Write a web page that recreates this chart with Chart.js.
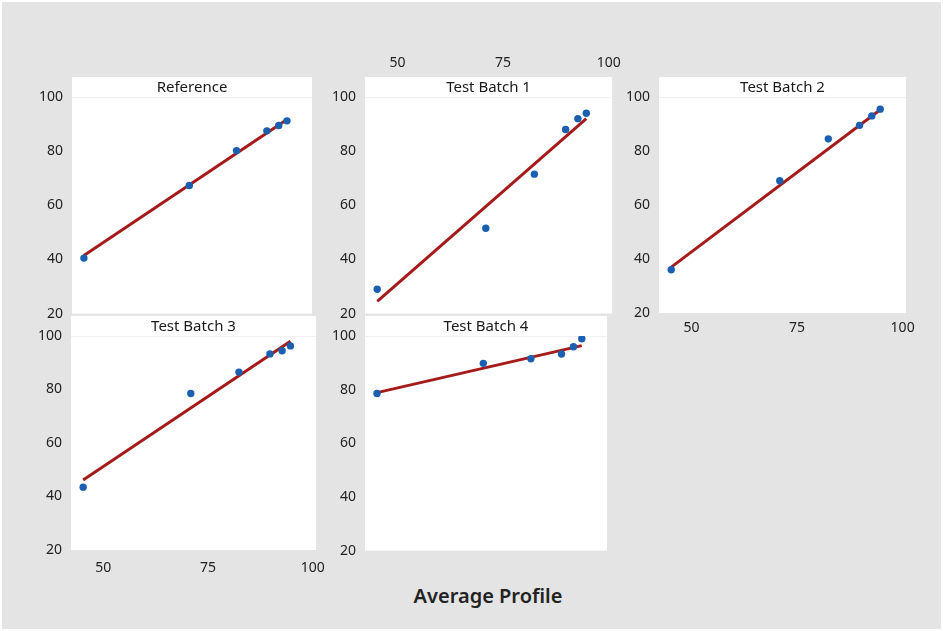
<!DOCTYPE html>
<html>
<head>
<meta charset="utf-8">
<script src="https://cdn.jsdelivr.net/npm/chart.js@4.4.1/dist/chart.umd.min.js"></script>
<style>
  html, body { margin: 0; padding: 0; background: #fff; }
  #frame { position: absolute; left: 2px; top: 2px; width: 939px; height: 627px; background: #e4e4e4; overflow: hidden; }
  #wrap { position: absolute; left: -2px; top: -2px; width: 943px; height: 631px; }
  canvas { position: absolute; }
  #xlabel { position: absolute; left: 340px; width: 296px; top: 582px; text-align: center;
            font-family: 'Noto Sans', sans-serif; font-size: 20px; font-weight: 600; color: #222; }
</style>
</head>
<body>
<div id="frame"><div id="wrap">
  <canvas id="c1" width="284" height="254" style="left:32px;top:77px"></canvas>
  <canvas id="c2" width="322" height="281" style="left:325px;top:50px"></canvas>
  <canvas id="c3" width="307" height="266" style="left:619px;top:77px"></canvas>
  <canvas id="c4" width="305" height="264" style="left:31px;top:316px"></canvas>
  <canvas id="c5" width="286" height="252" style="left:325px;top:316px"></canvas>
  <div id="xlabel">Average Profile</div>
</div></div>
<script>
// x values shared by every panel (average profile)
const avgProfile = [45.2, 70.9, 82.4, 89.8, 92.7, 94.7];

// y values per panel
const referenceY = [40.5, 67.3, 80.2, 87.5, 89.5, 91.2];
const batch1Y = [29, 51.5, 71.5, 88, 92, 94];
const batch2Y = [36, 69, 84.5, 89.5, 93, 95.5];
const batch3Y = [43.5, 78.5, 86.5, 93.3, 94.5, 96.3];
const batch4Y = [78.6, 89.8, 91.5, 93.3, 96, 99];

// fitted line ends
const fitX = [45.2, 94.7];
const referenceFit = [41.5, 91.7];
const batch1Fit = [24.5, 92];
const batch2Fit = [37, 95.3];
const batch3Fit = [46.2, 98];
const batch4Fit = [78.9, 96.4];

const panelTitles = ['Reference', 'Test Batch 1', 'Test Batch 2', 'Test Batch 3', 'Test Batch 4'];
const xTicks = [50, 75, 100];
const yTicks = [20, 40, 60, 80, 100];

Chart.defaults.font.family = "'Noto Sans', sans-serif";
Chart.defaults.font.size = 14;
Chart.defaults.color = '#222';

// white panel box with a title strip above the plot area
const panelBox = {
  id: 'panelBox',
  beforeDraw(chart, args, opts) {
    const { ctx, chartArea: a } = chart;
    ctx.save();
    ctx.fillStyle = '#fff';
    ctx.fillRect(a.left, a.top - 20, a.right - a.left, a.bottom - a.top + 20);
    ctx.strokeStyle = '#f0f0f0';
    ctx.lineWidth = 1;
    ctx.beginPath();
    ctx.moveTo(a.left, a.top + 0.5);
    ctx.lineTo(a.right, a.top + 0.5);
    ctx.stroke();
    ctx.fillStyle = '#1a1a1a';
    ctx.font = "15px 'Noto Sans', sans-serif";
    ctx.textAlign = 'center';
    ctx.textBaseline = 'middle';
    ctx.fillText(opts.title, (a.left + a.right) / 2, a.top - 9);
    ctx.restore();
  }
};

function makePanel(id, title, ys, fitY, xAxis, padding) {
  const ctx = document.getElementById(id).getContext('2d');
  return new Chart(ctx, {
    type: 'scatter',
    data: {
      datasets: [{
        data: avgProfile.map((x, i) => ({ x: x, y: ys[i] })),
        backgroundColor: '#1b5fb0',
        borderWidth: 0,
        pointRadius: 3.7,
        order: 0
      }, {
        data: fitX.map((x, i) => ({ x: x, y: fitY[i] })),
        showLine: true,
        borderColor: '#a51b1b',
        borderWidth: 3,
        pointRadius: 0,
        order: 1
      }]
    },
    options: {
      responsive: false,
      animation: false,
      events: [],
      layout: { padding: padding },
      plugins: {
        legend: { display: false },
        tooltip: { enabled: false },
        panelBox: { title: title }
      },
      scales: {
        x: {
          type: 'linear',
          min: 42.3,
          max: 100.8,
          display: xAxis !== null,
          position: xAxis ? xAxis.position : 'bottom',
          grid: { display: false, drawTicks: false },
          border: { display: false },
          ticks: { padding: xAxis ? xAxis.pad : 0, color: '#222' },
          afterBuildTicks: s => { s.ticks = xTicks.map(v => ({ value: v })); },
          afterFit: s => { if (xAxis) s.height = xAxis.height; }
        },
        y: {
          type: 'linear',
          min: 20,
          max: 100,
          grid: { display: false, drawTicks: false },
          border: { display: false },
          ticks: { padding: 9, color: '#222' },
          afterBuildTicks: s => { s.ticks = yTicks.map(v => ({ value: v })); },
          afterFit: s => { s.width = 40; }
        }
      }
    },
    plugins: [panelBox]
  });
}

makePanel('c1', panelTitles[0], referenceY, referenceFit, null, { top: 20, bottom: 10, left: 0, right: 0 });
makePanel('c2', panelTitles[1], batch1Y, batch1Fit, { position: 'top', pad: 26, height: 47 }, { top: 0, bottom: 10, left: 0, right: 20 });
makePanel('c3', panelTitles[2], batch2Y, batch2Fit, { position: 'bottom', pad: 7, height: 30 }, { top: 20, bottom: 0, left: 0, right: 20 });
makePanel('c4', panelTitles[3], batch3Y, batch3Fit, { position: 'bottom', pad: 10, height: 30 }, { top: 20, bottom: 0, left: 0, right: 20 });
makePanel('c5', panelTitles[4], batch4Y, batch4Fit, null, { top: 20, bottom: 10, left: 0, right: 0 });
</script>
</body>
</html>
